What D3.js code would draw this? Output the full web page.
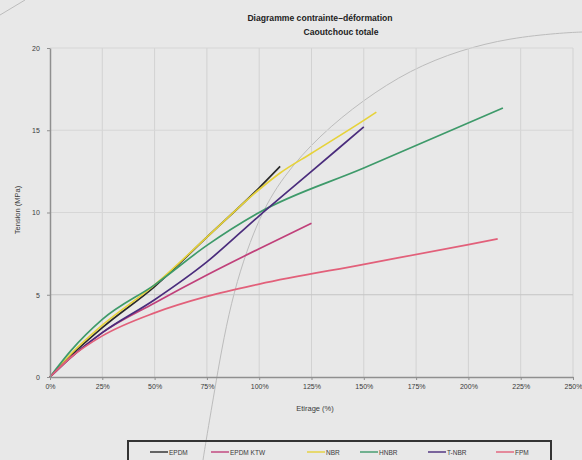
<!DOCTYPE html>
<html>
<head>
<meta charset="utf-8">
<script src="https://cdn.jsdelivr.net/npm/d3@7"></script>
<style>
  body { margin: 0; background: #e8e8e8; }
  svg { display: block; font-family: "Liberation Sans", Arial, sans-serif; }
  .axis path, .axis line { stroke: #8f8f8f; }
  .axis text { fill: #3a3a3a; font-size: 7px; }
</style>
</head>
<body>
<div class="chart"></div>
<script>
// strain (%) / stress (MPa)
const seriesNames = ["EPDM", "EPDM KTW", "NBR", "HNBR", "T-NBR", "FPM"];
const seriesColors = ["#2a2a2a", "#c0407a", "#e6d23a", "#3e9a6a", "#4a2c7c", "#e2607a"];

const epdm = [[0,0],[10,1.3],[25,3.0],[50,5.5],[75,8.5],[100,11.5],[110,12.8]];
const epdmKtw = [[0,0],[10,1.2],[25,2.7],[50,4.5],[75,6.2],[100,7.8],[125,9.35]];
const nbr = [[0,0],[10,1.4],[25,3.15],[50,5.6],[75,8.5],[100,11.4],[110,12.4],[125,13.6],[150,15.6],[156,16.1]];
const hnbr = [[0,0],[10,1.6],[25,3.5],[50,5.6],[75,8.0],[100,10.0],[150,12.7],[216.5,16.35]];
const tnbr = [[0,0],[10,1.2],[25,2.7],[50,4.7],[75,7.0],[100,9.8],[125,12.5],[150,15.2]];
const fpm = [[0,0],[10,1.2],[25,2.5],[50,3.9],[75,4.9],[100,5.65],[150,6.85],[200,8.05],[214,8.4]];
const allSeries = [epdm, epdmKtw, nbr, hnbr, tnbr, fpm];

const xTicks = [0, 25, 50, 75, 100, 125, 150, 175, 200, 225, 250];
const yTicks = [0, 5, 10, 15, 20];

const svg_width = 582, svg_height = 460;
const margin = {top: 48, right: 9, bottom: 83, left: 50};
const chart_width = svg_width - margin.left - margin.right;
const chart_height = svg_height - margin.top - margin.bottom;

const svg = d3.select(".chart").append("svg")
  .attr("width", svg_width).attr("height", svg_height);

// background arc of the slide (decoration)
const arcPts = [[203,460],[207,435],[213,400],[230,300],[257,220],[283,176],[320,135],[363,100],[410,70],[460,50],[510,38],[560,33],[582,32]];
svg.append("path")
  .attr("d", d3.line().curve(d3.curveBasis)(arcPts))
  .attr("fill", "none").attr("stroke", "#bcbcbc").attr("stroke-width", 1);
svg.append("path")
  .attr("d", d3.line()([[0,15],[25,0]]))
  .attr("fill", "none").attr("stroke", "#bcbcbc").attr("stroke-width", 1);

const g = svg.append("g").attr("transform", `translate(${margin.left},${margin.top})`);

const xScale = d3.scaleLinear([0, 250], [0, chart_width]);
const yScale = d3.scaleLinear([0, 20], [chart_height, 0]);

// grid
g.append("g").selectAll("line").data(xTicks.slice(1)).join("line")
  .attr("x1", d => xScale(d)).attr("x2", d => xScale(d))
  .attr("y1", 0).attr("y2", chart_height)
  .attr("stroke", "#d2d2d2");
g.append("g").selectAll("line").data(yTicks.slice(1)).join("line")
  .attr("x1", 0).attr("x2", chart_width)
  .attr("y1", d => yScale(d)).attr("y2", d => yScale(d))
  .attr("stroke", d => d === 5 ? "#c4c4c4" : "#d6d6d6");

// lines
const line = d3.line().x(d => xScale(d[0])).y(d => yScale(d[1])).curve(d3.curveMonotoneX);
g.append("g").selectAll("path").data(allSeries).join("path")
  .attr("d", line)
  .attr("fill", "none")
  .attr("stroke", (d, i) => seriesColors[i])
  .attr("stroke-width", 1.7);

// axes
const xAxis = d3.axisBottom(xScale).tickValues(xTicks).tickFormat(d => d + "%").tickSize(3).tickSizeOuter(0);
g.append("g").attr("class", "axis")
  .attr("transform", `translate(0,${chart_height})`)
  .call(xAxis)
  .call(s => s.select(".domain").attr("stroke-width", 1.5))
  .selectAll("text").attr("dy", "0.9em");

const yAxis = d3.axisLeft(yScale).tickValues(yTicks).tickSize(3).tickSizeOuter(0);
g.append("g").attr("class", "axis")
  .call(yAxis)
  .call(s => s.select(".domain").attr("stroke-width", 1.5))
  .selectAll("text").attr("dx", "-0.6em");

// titles
svg.append("text").attr("x", 320).attr("y", 21)
  .attr("text-anchor", "middle").attr("font-size", 8.6).attr("font-weight", "bold").attr("fill", "#222")
  .text("Diagramme contrainte–déformation");
svg.append("text").attr("x", 341).attr("y", 35)
  .attr("text-anchor", "middle").attr("font-size", 8.6).attr("font-weight", "bold").attr("fill", "#222")
  .text("Caoutchouc totale");

svg.append("text")
  .attr("transform", "rotate(-90)")
  .attr("x", -210).attr("y", 20)
  .attr("text-anchor", "middle").attr("font-size", 7.5).attr("fill", "#3a3a3a")
  .text("Tension (MPa)");

svg.append("text").attr("x", 315).attr("y", 411)
  .attr("text-anchor", "middle").attr("font-size", 7.5).attr("fill", "#3a3a3a")
  .text("Etirage (%)");

// legend box (cut by the bottom edge)
svg.append("path")
  .attr("d", d3.line()([[128,462],[128,441],[551,441],[551,462]]))
  .attr("fill", "none").attr("stroke", "#333").attr("stroke-width", 2);

const legendX = [150, 211, 307, 360, 428, 496];
const leg = svg.append("g").selectAll("g").data(seriesNames).join("g")
  .attr("transform", (d, i) => `translate(${legendX[i]},452)`);
leg.append("line").attr("x1", 0).attr("x2", 18).attr("y1", 0).attr("y2", 0)
  .attr("stroke", (d, i) => seriesColors[i]).attr("stroke-width", 1.4);
leg.append("text").attr("x", 19).attr("y", 2.5)
  .attr("font-size", 6.5).attr("fill", "#3a3a3a")
  .text(d => d);
</script>
</body>
</html>
